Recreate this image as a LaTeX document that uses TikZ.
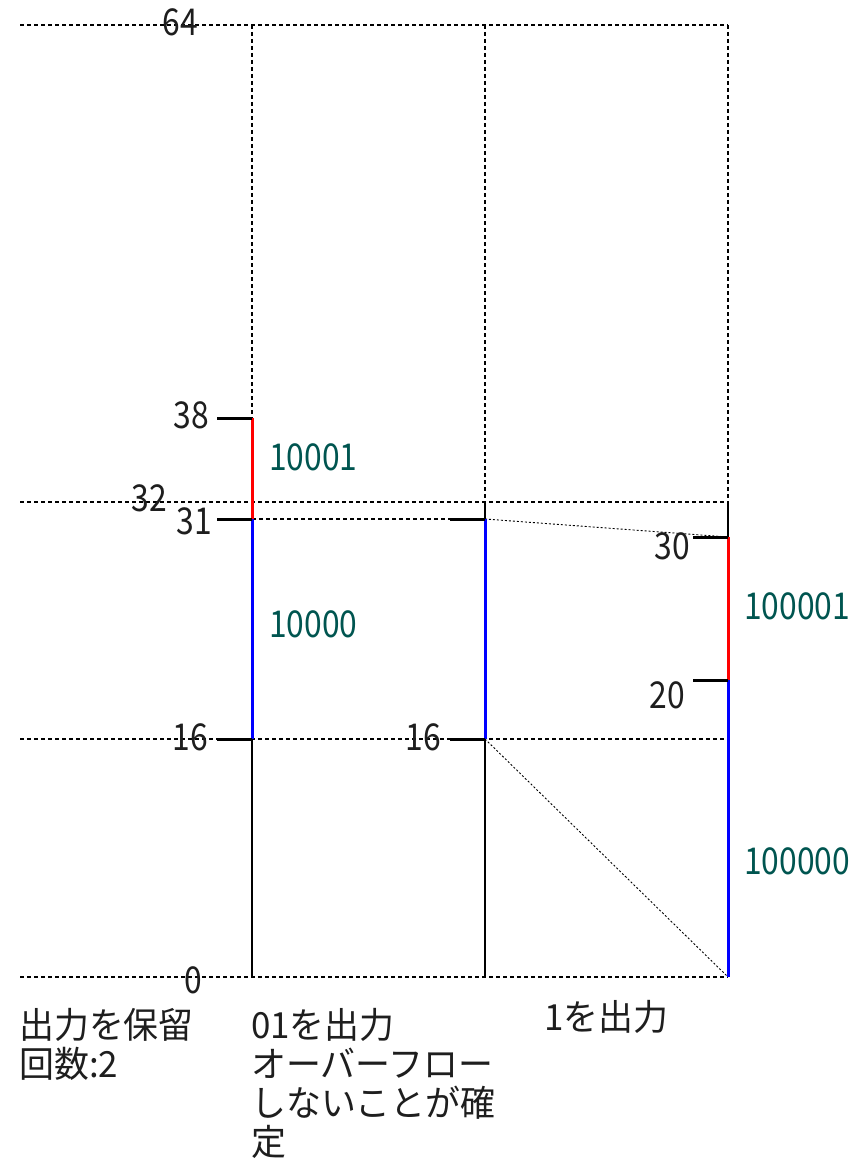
\documentclass[tikz,border=0pt]{standalone}
\usepackage{fontspec}
\newfontfamily\jpfont[FakeStretch=0.97]{Noto Sans CJK JP}
\newfontfamily\numfont[FakeStretch=0.86]{Noto Sans CJK JP}
\definecolor{bitcol}{RGB}{0,85,80}
\definecolor{inkgray}{RGB}{30,30,30}

\begin{document}
\begin{tikzpicture}[x=1pt, y=-1pt,
	every node/.style={inner sep=0pt, text=inkgray},
	num/.style={font=\numfont\fontsize{37}{37}\selectfont},
	bits/.style={font=\numfont\fontsize{37}{37}\selectfont, text=bitcol, anchor=west},
	jp/.style={font=\jpfont\fontsize{36}{39}\selectfont, align=left, anchor=north west},
	grid/.style={line width=1.5pt, dash pattern=on 4pt off 3pt},
	guide/.style={line width=0.9pt, dash pattern=on 2pt off 2pt},
	tick/.style={line width=3pt},
	stem/.style={line width=1.5pt},
	upper/.style={line width=3pt, red},
	lower/.style={line width=3pt, blue}]
	\useasboundingbox (0,0) rectangle (862,1161);
	% levels of each column
	\foreach \c/\x in {l/20, a/252, b/485, c/728} {
		\coordinate (\c-top) at (\x,25);
		\coordinate (\c-32) at (\x,502);
		\coordinate (\c-16) at (\x,739);
		\coordinate (\c-0) at (\x,977);
	}
	\coordinate (a-38) at (252,418);
	\coordinate (a-31) at (252,519);
	\coordinate (b-31) at (485,519);
	\coordinate (b-31t) at (450,519);
	\coordinate (c-30) at (728,537);
	\coordinate (c-20) at (728,680);

	\foreach \n in {top,32,16,0}
		\draw[grid] (l-\n) -- (c-\n);
	\draw[grid] (a-top) -- (a-38);
	\draw[grid] (b-top) -- (b-32);
	\draw[grid] (c-top) -- (c-32);
	\draw[grid] (a-31) -- (b-31t);
	\draw[guide] (b-31) -- (c-30);
	\draw[guide] (b-16) -- (c-0);

	\draw[stem] (b-32) -- (b-31);
	\draw[stem] (c-32) -- (c-30);
	\draw[stem] (a-16) -- (a-0);
	\draw[stem] (b-16) -- (b-0);
	\draw[upper] (a-38) -- (a-31);
	\draw[upper] (c-30) -- (c-20);
	\draw[lower] (a-31) -- (a-16);
	\draw[lower] (b-31) -- (b-16);
	\draw[lower] (c-20) -- (c-0);
	\foreach \p in {a-38,a-31,a-16,b-31,b-16,c-30,c-20}
		\draw[tick] (\p) -- ++(-35,0);

	% values
	\node[num] (v64) at (180,22) {64};
	\node[num] (v32) at (149,498) {32};
	\node[num] (v0) at (193,980) {0};
	\node[num, anchor=east] (v38) at (209,415) {38};
	\node[num, anchor=east] (v31) at (212,521) {31};
	\node[num, anchor=east] (v16a) at (208,737) {16};
	\node[num, anchor=east] (v16b) at (441,737) {16};
	\node[num, anchor=east] (v30) at (690,546) {30};
	\node[num, anchor=east] (v20) at (685,695) {20};

	\node[bits] (bA1) at (269,457) {10001};
	\node[bits] (bA0) at (269,624) {10000};
	\node[bits] (bC1) at (744,606) {100001};
	\node[bits] (bC0) at (744,861) {100000};

	\node[jp] (hold) at (19,1008) {出力を保留\\回数:2};
	\node[jp] (out01) at (251,1008) {01を出力\\オーバーフロー\\しないことが確\\定};
	\node[jp] (out1) at (544,1000) {1を出力};
\end{tikzpicture}
\end{document}
